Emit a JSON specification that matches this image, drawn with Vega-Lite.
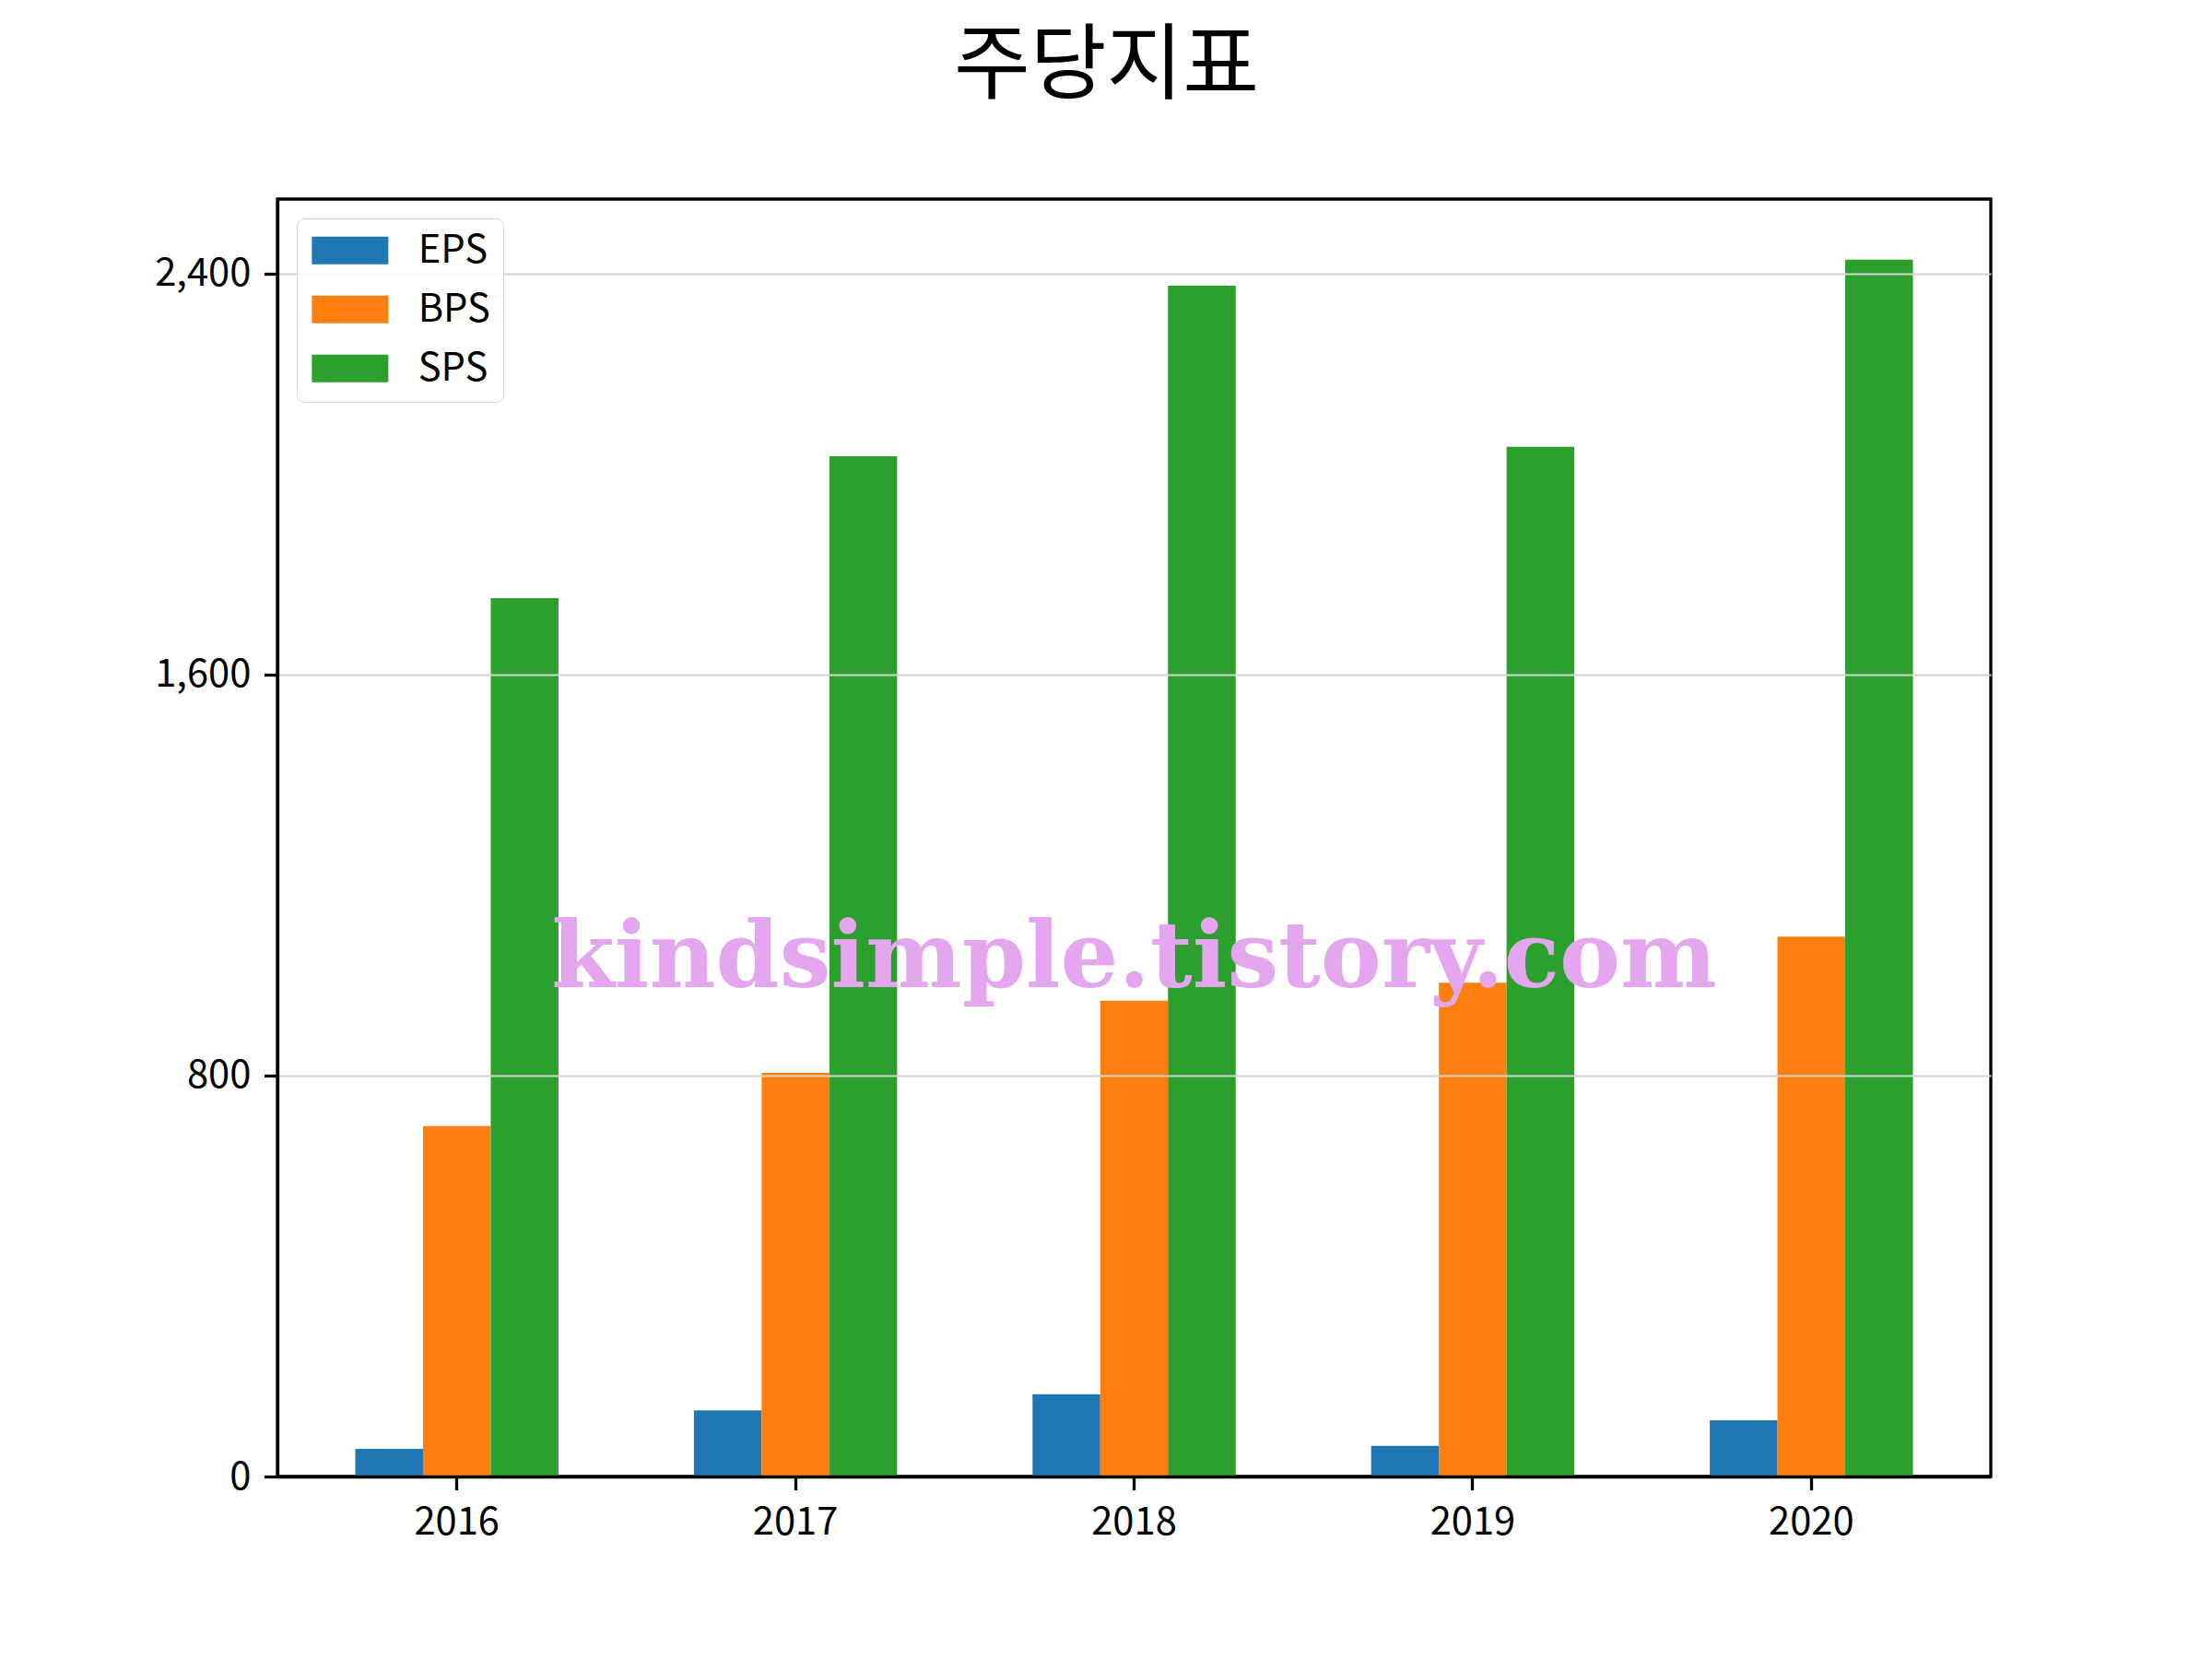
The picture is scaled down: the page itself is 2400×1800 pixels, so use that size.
{
  "$schema": "https://vega.github.io/schema/vega-lite/v6.json",
  "width": 1859,
  "height": 1386,
  "autosize": {"type": "none"},
  "padding": {"left": 301, "top": 216, "right": 240, "bottom": 198},
  "background": "white",
  "title": {
    "text": "주당지표",
    "font": "Noto Sans CJK KR",
    "fontSize": 90,
    "fontWeight": "normal",
    "color": "black",
    "anchor": "middle",
    "dx": -30,
    "offset": 26,
    "baseline": "alphabetic"
  },
  "config": {
    "view": {"stroke": "black", "strokeWidth": 3.3},
    "axis": {
      "labelFont": "Noto Sans CJK KR",
      "labelFontSize": 41.7,
      "labelColor": "black",
      "tickColor": "black",
      "tickWidth": 3.3,
      "tickSize": 14.6,
      "labelPadding": 14.6,
      "domainColor": "black",
      "domainWidth": 3.3,
      "title": null
    }
  },
  "layer": [
    {
      "data": {
        "values": [
          {"year": "2016", "metric": "EPS", "value": 55},
          {"year": "2016", "metric": "BPS", "value": 699},
          {"year": "2016", "metric": "SPS", "value": 1752},
          {"year": "2017", "metric": "EPS", "value": 132},
          {"year": "2017", "metric": "BPS", "value": 805},
          {"year": "2017", "metric": "SPS", "value": 2035},
          {"year": "2018", "metric": "EPS", "value": 164},
          {"year": "2018", "metric": "BPS", "value": 949},
          {"year": "2018", "metric": "SPS", "value": 2375},
          {"year": "2019", "metric": "EPS", "value": 61},
          {"year": "2019", "metric": "BPS", "value": 985},
          {"year": "2019", "metric": "SPS", "value": 2054},
          {"year": "2020", "metric": "EPS", "value": 112},
          {"year": "2020", "metric": "BPS", "value": 1077},
          {"year": "2020", "metric": "SPS", "value": 2427}
        ]
      },
      "mark": {"type": "bar"},
      "encoding": {
        "x": {
          "field": "year",
          "type": "nominal",
          "scale": {"paddingInner": 0.4, "paddingOuter": 0.23},
          "axis": {"labelAngle": 0, "grid": false, "zindex": 2}
        },
        "xOffset": {
          "field": "metric",
          "type": "nominal",
          "sort": ["EPS", "BPS", "SPS"],
          "scale": {"paddingInner": 0, "paddingOuter": 0}
        },
        "y": {
          "field": "value",
          "type": "quantitative",
          "scale": {"domain": [0, 2548], "nice": false},
          "axis": {
            "values": [0, 800, 1600, 2400],
            "format": ",d",
            "grid": true,
            "gridColor": "#d3d3d3",
            "gridWidth": 2,
            "zindex": 1
          }
        },
        "color": {
          "field": "metric",
          "type": "nominal",
          "sort": ["EPS", "BPS", "SPS"],
          "scale": {
            "domain": ["EPS", "BPS", "SPS"],
            "range": ["#1f77b4", "#ff7f0e", "#2ca02c"]
          },
          "legend": {
            "title": null,
            "orient": "top-left",
            "offset": 21,
            "padding": 14,
            "zindex": 3,
            "fillColor": "rgba(255,255,255,0.8)",
            "strokeColor": "#d6d6d6",
            "cornerRadius": 8,
            "symbolType": "M-2.767,-1H2.767V1H-2.767Z",
            "symbolSize": 900,
            "symbolOffset": 23,
            "symbolStrokeWidth": 0,
            "symbolOpacity": 1,
            "labelFont": "Noto Sans CJK KR",
            "labelFontSize": 41.7,
            "labelColor": "black",
            "labelOffset": 53,
            "rowPadding": 21
          }
        }
      }
    },
    {
      "data": {
        "values": [
          {"label": "kindsimple.tistory.com", "year": "2018", "value": 976}
        ]
      },
      "mark": {
        "type": "text",
        "font": "DejaVu Serif",
        "fontWeight": "bold",
        "fontSize": 99,
        "color": "#e4a7ef",
        "align": "center",
        "baseline": "alphabetic"
      },
      "encoding": {
        "x": {"field": "year", "type": "nominal"},
        "y": {"field": "value", "type": "quantitative"},
        "text": {"field": "label"}
      }
    }
  ]
}
